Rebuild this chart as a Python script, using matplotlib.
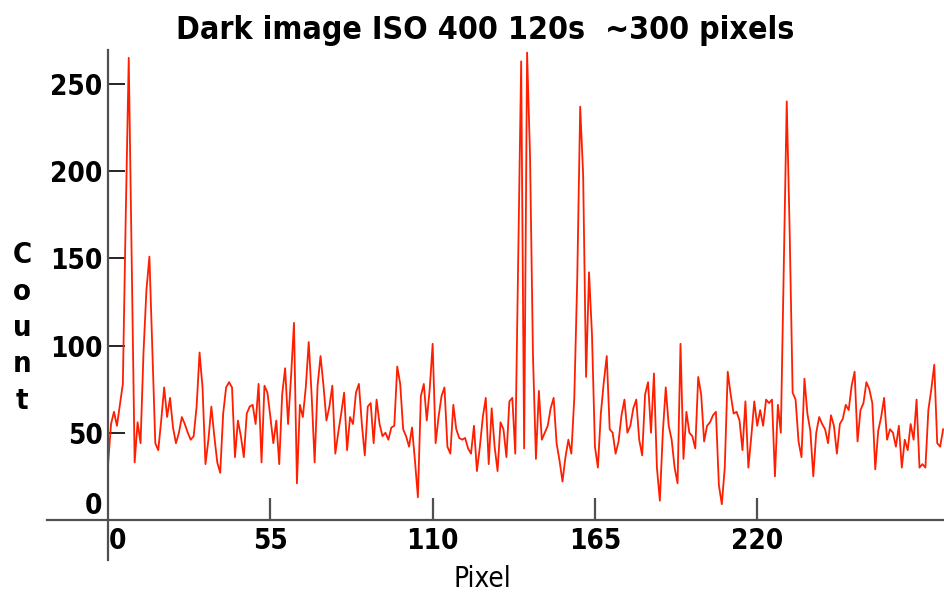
import numpy as np
import matplotlib.pyplot as plt
from matplotlib.transforms import ScaledTranslation

# dark frame, one row of pixel counts
counts_a = [32, 55, 62, 54, 66, 78, 176, 265, 149, 33, 56, 44, 96, 132, 151, 98, 44,
            40, 57, 76, 59, 70, 53, 44, 50, 59, 55, 50, 46, 48, 65, 96, 76, 32, 46, 65,
            48, 33, 27, 61, 76, 79, 76, 36, 57, 48, 36, 61, 65]
counts_b = [66, 55, 78, 33, 77, 73, 59, 44, 57, 32, 72, 87, 55, 82, 113, 21, 66, 59,
            76, 102, 71, 33, 77, 94, 77, 57, 65, 77, 38, 50, 61, 73, 40, 59, 55, 73, 78,
            55, 37, 65, 67, 44, 69, 55, 48, 50, 46]
counts_c = [53, 54, 88, 78, 52, 48, 42, 53, 34, 13, 71, 78, 57, 75, 101, 44, 59, 71,
            76, 42, 38, 66, 52, 47, 46, 47, 41, 38, 54, 28, 42, 59, 70, 32, 64, 42, 28,
            56, 52, 36, 68, 70, 38, 151, 263, 41]
counts_d = [268, 209, 94, 35, 74, 46, 50, 54, 64, 70, 44, 34, 22, 36, 46, 38, 70, 138,
            237, 198, 82, 142, 106, 42, 30, 61, 79, 94, 52, 50, 38, 45, 60, 69, 50, 54,
            64, 69, 46, 37, 72, 79, 50, 84, 30, 11, 50, 76]
counts_e = [54, 46, 30, 21, 101, 35, 62, 50, 48, 41, 82, 72, 45, 54, 56, 60, 62, 20, 9,
            30, 85, 72, 61, 62, 57, 40, 68, 30, 48, 68, 54, 63, 54, 69, 67, 69, 25, 66,
            50, 145, 240, 165, 73, 69, 45, 36, 81]
counts_f = [61, 51, 25, 50, 59, 55, 52, 44, 60, 54, 38, 55, 58, 66, 63, 77, 85, 45, 63,
            67, 79, 75, 67, 29, 51, 59, 70, 46, 52, 50, 42, 54, 30, 46, 40, 55, 46, 69,
            30, 32, 30, 63, 75, 89, 44, 42, 52]

x_ticks = [0, 55, 110, 165, 220]
y_ticks = [0, 50, 100, 150, 200, 250]

counts = np.array(counts_a + counts_b + counts_c + counts_d + counts_e + counts_f)
pixel = np.arange(len(counts))

font = dict(family='DejaVu Sans', fontstretch='condensed', fontweight='bold')

fig = plt.figure(figsize=(9.44, 5.93), dpi=100)
ax = fig.add_axes([0.0498, 0.0556, 0.9502, 0.8601])

ax.plot(pixel, counts, color='#ff1e00', lw=1.3)

ax.set_xlim(-20.7, 283.3)
ax.set_ylim(-23, 269.5)

for s in ['top', 'right']:
    ax.spines[s].set_visible(False)
for s in ['left', 'bottom']:
    ax.spines[s].set_position(('data', 0))
    ax.spines[s].set_color('#505050')
    ax.spines[s].set_linewidth(1.6)

ax.set_xticks(x_ticks)
ax.set_xticklabels([str(v) for v in x_ticks], **font, fontsize=20)
ax.set_yticks(y_ticks)
ax.set_yticklabels([str(v) for v in y_ticks], **font, fontsize=20)
ax.tick_params(axis='x', direction='in', length=16, width=1.6, color='#505050', pad=5)
ax.tick_params(axis='y', direction='in', length=12, width=1.2, color='black', pad=4)

# the 0 on the count axis sits above the pixel axis line
t0 = ax.yaxis.get_major_ticks()[0]
t0.tick1line.set_visible(False)
t0.label1.set_transform(t0.label1.get_transform() + ScaledTranslation(0, 17 / 100, fig.dpi_scale_trans))
ax.xaxis.get_major_ticks()[0].tick1line.set_visible(False)
ax.xaxis.get_major_ticks()[0].label1.set_transform(
    ax.xaxis.get_major_ticks()[0].label1.get_transform() + ScaledTranslation(9 / 100, 0, fig.dpi_scale_trans))

fig.text(485 / 944, 1 - 31 / 593, 'Dark image ISO 400 120s  ~300 pixels', ha='center', va='center',
         fontsize=23, **font)
fig.text(482 / 944, 1 - 579 / 593, 'Pixel', ha='center', va='center', fontsize=20,
         family='DejaVu Sans', fontstretch='condensed')
fig.text(22 / 944, 1 - 328 / 593, 'C\no\nu\nn\nt', ha='center', va='center', fontsize=21,
         linespacing=1.38, **font)

fig.savefig('out.png', dpi=100)
